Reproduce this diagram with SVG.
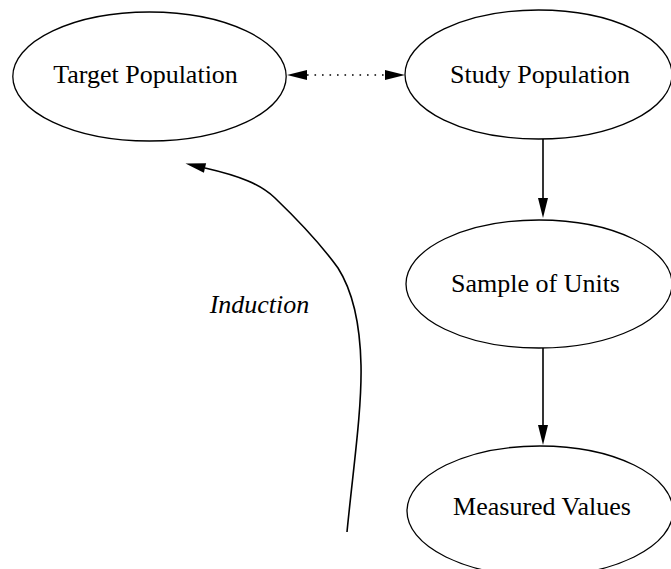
<svg xmlns="http://www.w3.org/2000/svg" width="671" height="569" viewBox="0 0 671 569">
<style>
.node ellipse{fill:#fff;stroke:#000;stroke-width:1.3}
.label{font-family:"Liberation Serif","Times New Roman",serif;font-size:26px;fill:#000;text-anchor:middle}
.edge{fill:none;stroke:#000;stroke-width:1.6}
.dotted{stroke-dasharray:1.6 5.9}
</style>
<defs>
<marker id="head" markerUnits="userSpaceOnUse" markerWidth="21" markerHeight="11" refX="0" refY="5" orient="auto-start-reverse" overflow="visible">
<path d="M0,0 L20,5 L0,10 z" fill="#000"/>
</marker>
</defs>
<rect width="671" height="569" fill="#fff"/>
<g id="target" class="node">
<ellipse cx="149.5" cy="76.5" rx="136.7" ry="64.5"/>
<text class="label" x="145.5" y="82.5">Target Population</text>
</g>
<g id="study" class="node">
<ellipse cx="538.5" cy="74.5" rx="133.5" ry="64.5"/>
<text class="label" x="540" y="82.5">Study Population</text>
</g>
<g id="sample" class="node">
<ellipse cx="539" cy="284" rx="133" ry="64"/>
<text class="label" x="535.5" y="292">Sample of Units</text>
</g>
<g id="measured" class="node">
<ellipse cx="540" cy="511" rx="133" ry="65"/>
<text class="label" x="542" y="515">Measured Values</text>
</g>
<g id="connectors">
<line class="edge dotted" x1="307" y1="75" x2="385" y2="75" marker-start="url(#head)" marker-end="url(#head)"/>
<line class="edge" x1="543" y1="139" x2="543" y2="198" marker-end="url(#head)"/>
<line class="edge" x1="543" y1="348" x2="543" y2="425" marker-end="url(#head)"/>
<path class="edge" d="M347,532 C353,470 362,410 361,365 C360,320 352,290 338,268 C325,250 300,222 275,198 C260,184 240,176 205,168" marker-end="url(#head)"/>
<text class="label" x="259.5" y="313" font-style="italic">Induction</text>
</g>
</svg>
